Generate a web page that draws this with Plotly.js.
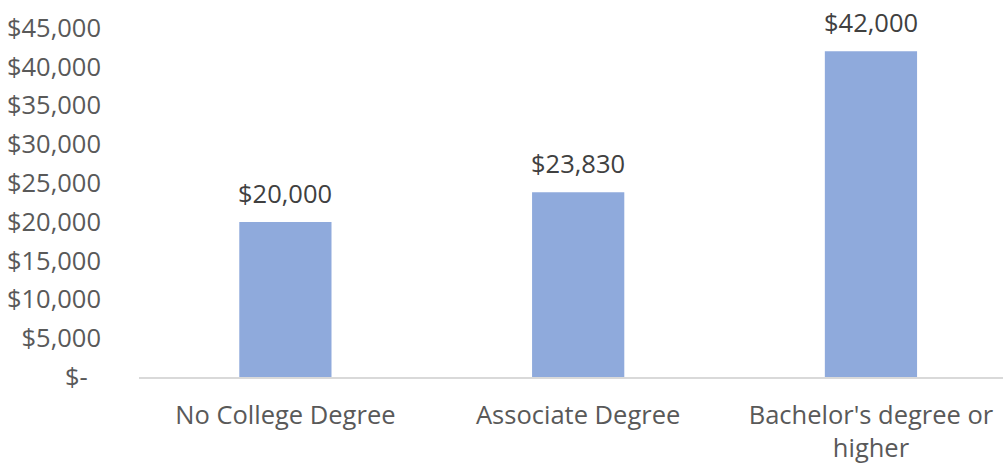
<!DOCTYPE html>
<html>
<head>
<meta charset="utf-8">
<script src="https://cdn.plot.ly/plotly-3.0.1.min.js"></script>
<style>html,body{margin:0;padding:0;background:#fff;}#chart{width:1003px;height:466px;}</style>
</head>
<body>
<div id="chart"></div>
<script>
const categories = ["No College Degree", "Associate Degree", "Bachelor's degree or<br>higher"];
const values = [20000, 23830, 42000];
const barLabels = ["$20,000", "$23,830", "$42,000"];
const tickVals = [0, 5000, 10000, 15000, 20000, 25000, 30000, 35000, 40000, 45000];
const tickLabels = ["$-\u00a0\u00a0", "$5,000", "$10,000", "$15,000", "$20,000", "$25,000", "$30,000", "$35,000", "$40,000", "$45,000"];

const FONT = "Open Sans, Noto Sans, sans-serif";

const trace = {
  type: 'bar',
  x: [0, 1, 2],
  y: values,
  width: 0.315,
  marker: {color: '#8FAADC'},
  hoverinfo: 'none'
};

const annotations = values.map((v, i) => ({
  x: i, y: v, xref: 'x', yref: 'y',
  text: barLabels[i], showarrow: false,
  yanchor: 'bottom', yshift: 10,
  font: {family: FONT, size: 25.5, color: '#404040'}
}));

const layout = {
  width: 1003, height: 466,
  margin: {l: 139, r: 0, t: 28, b: 89},
  paper_bgcolor: '#ffffff', plot_bgcolor: '#ffffff',
  showlegend: false,
  xaxis: {
    range: [-0.5, 2.451],
    tickvals: [0, 1, 2], ticktext: categories,
    showgrid: false, zeroline: false,
    showline: true, linecolor: '#D9D9D9', linewidth: 1.5,
    ticks: '', ticklabelstandoff: 15,
    tickfont: {family: FONT, size: 25.5, color: '#595959'}
  },
  yaxis: {
    range: [0, 45000],
    tickvals: tickVals, ticktext: tickLabels,
    showgrid: false, zeroline: false, showline: false,
    ticks: '', ticklabelstandoff: 37,
    tickfont: {family: FONT, size: 25.5, color: '#595959'}
  },
  annotations: annotations
};

Plotly.newPlot('chart', [trace], layout, {displayModeBar: false, staticPlot: true});
</script>
</body>
</html>
